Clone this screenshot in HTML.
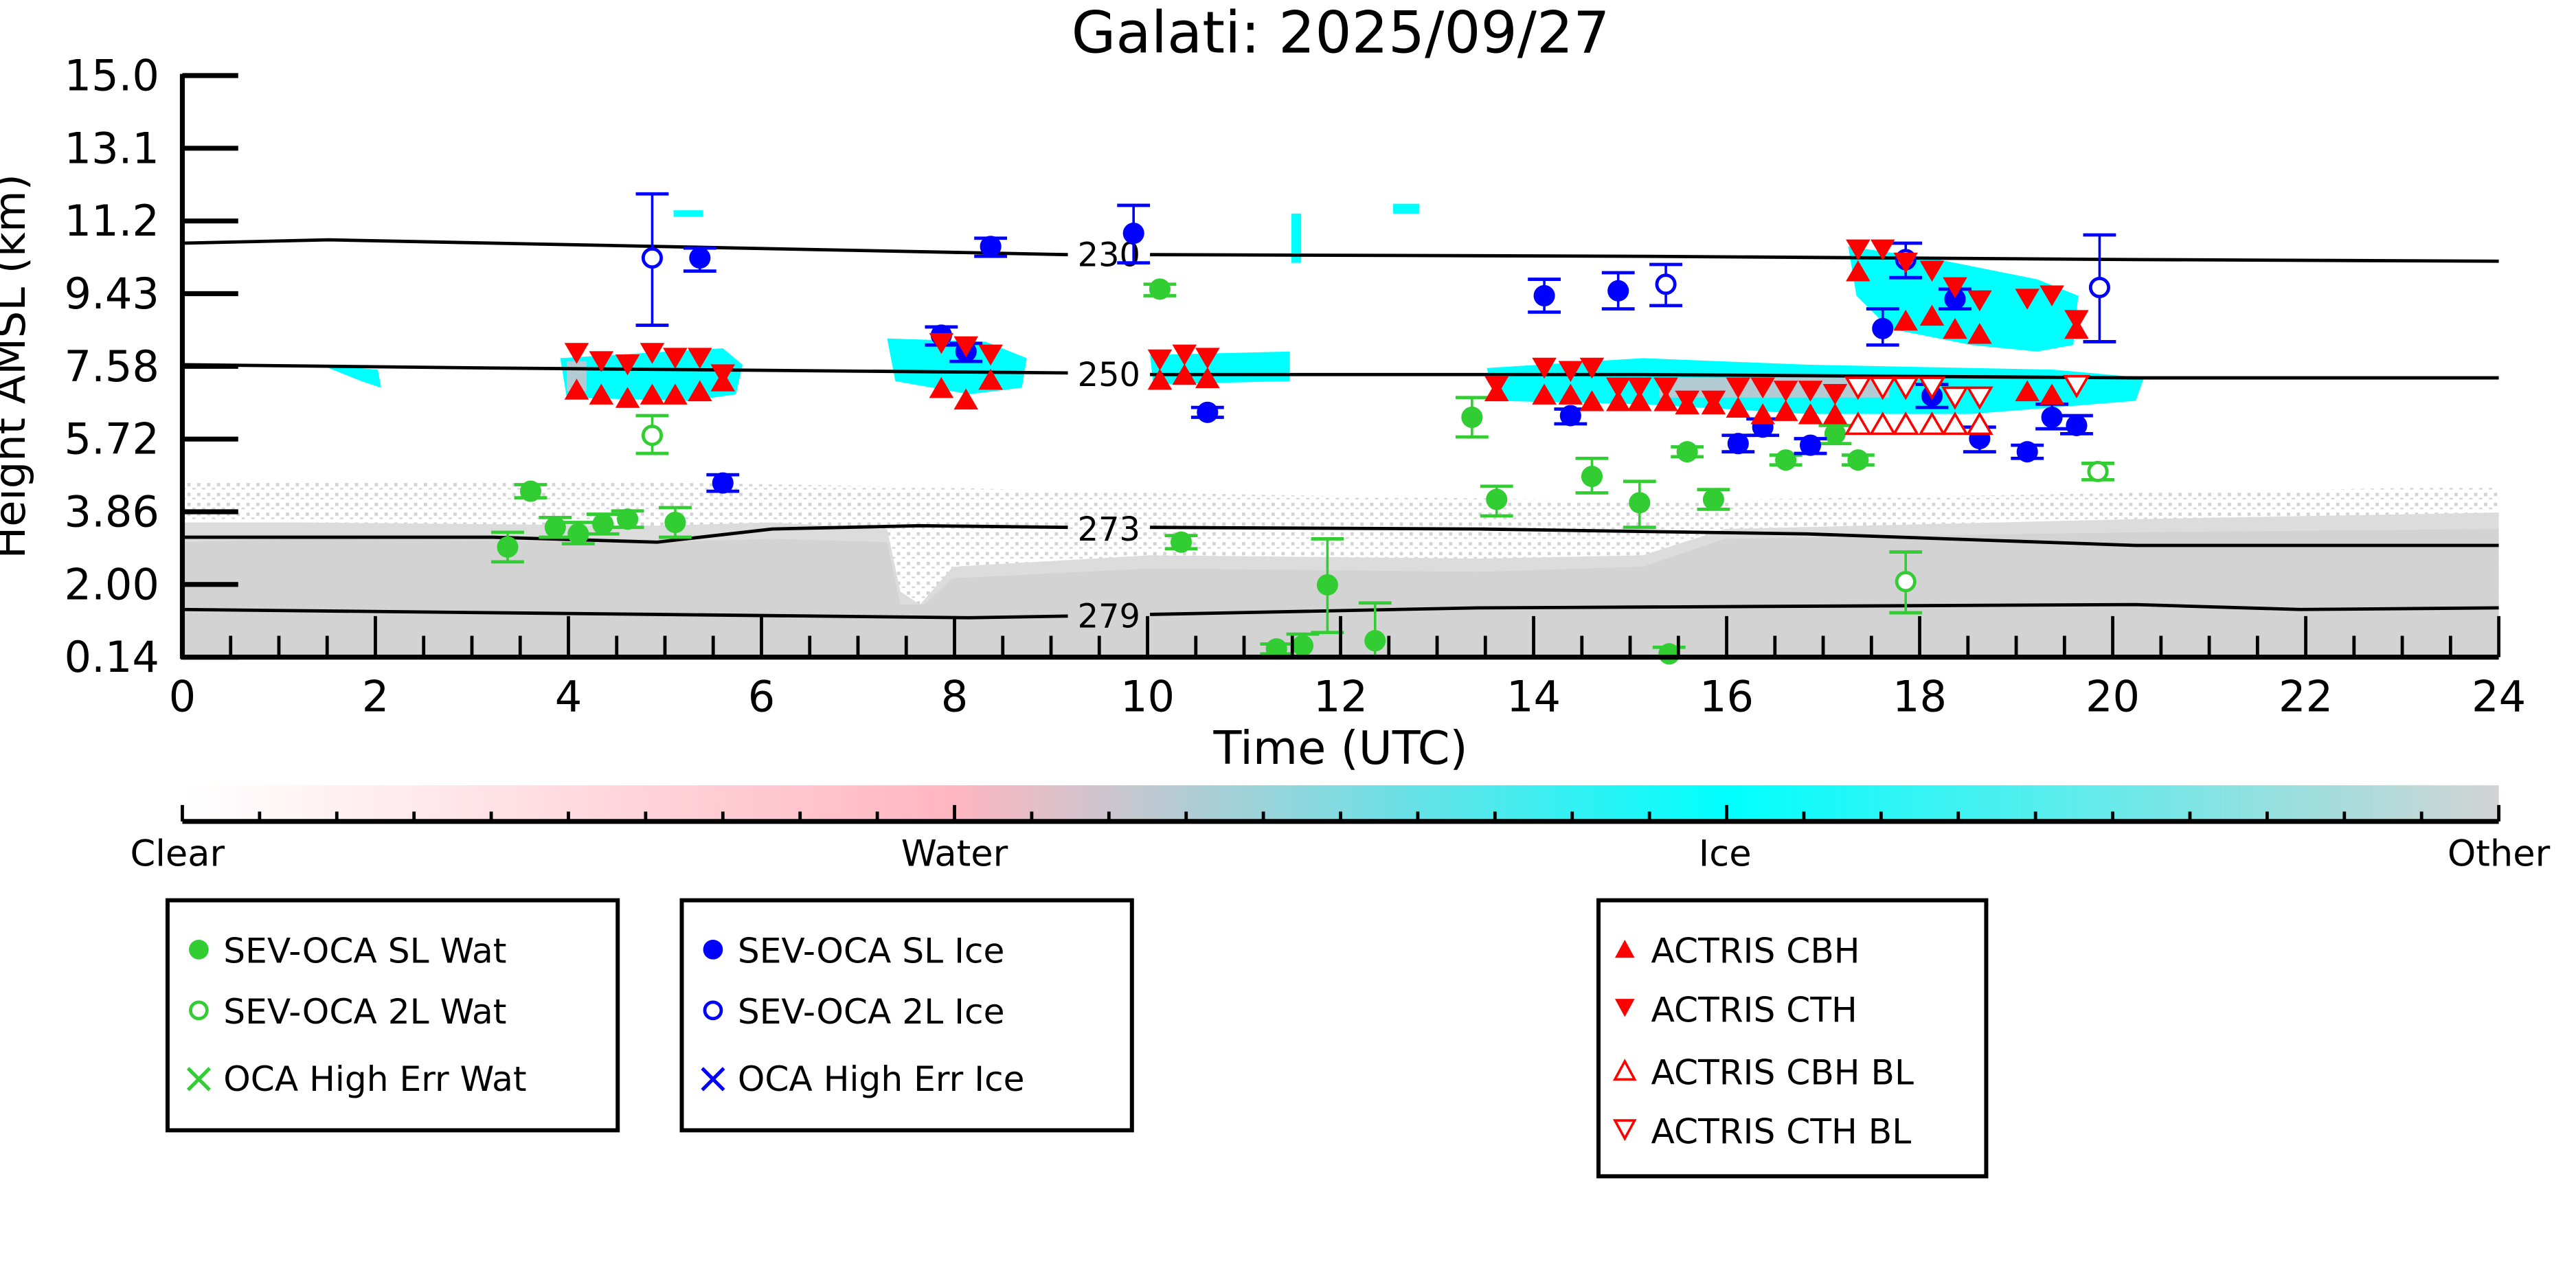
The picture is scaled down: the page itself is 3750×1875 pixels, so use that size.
<!DOCTYPE html>
<html><head><meta charset="utf-8"><style>
html,body{margin:0;padding:0;background:#fff;}
svg{display:block;font-family:"DejaVu Sans","Liberation Sans",sans-serif;}
</style></head><body>
<svg id="s" width="3750" height="1875" viewBox="0 0 1568 784" xmlns="http://www.w3.org/2000/svg">
<defs>
<linearGradient id="cb" x1="0" x2="1" y1="0" y2="0">
<stop offset="0" stop-color="#ffffff"/>
<stop offset="0.333" stop-color="#ffb6c1"/>
<stop offset="0.667" stop-color="#00ffff"/>
<stop offset="1" stop-color="#d3d3d3"/>
</linearGradient>
<pattern id="noise" width="6" height="6" patternUnits="userSpaceOnUse">
<rect x="0" y="0" width="2" height="2" fill="#d3d3d3"/><rect x="3" y="3" width="2" height="1" fill="#d3d3d3"/>
</pattern>
</defs>
<text x="816" y="32" font-size="35" text-anchor="middle">Galati: 2025/09/27</text>
<!-- gray clutter -->
<polygon fill="url(#noise)" points="111,292 300,292 540,296 700,300 1000,305 1300,300 1521,296 1521,400 111,400"/>
<polygon fill="#dcdcdc" points="111,318 180,318 400,320 470,318 540,322 548,360 560,368 580,345 700,338 900,340 1000,338 1050,322 1300,316 1521,312 1521,400 111,400"/>
<polygon fill="#d3d3d3" points="111,330 180,328 400,330 470,328 540,330 548,368 560,370 580,352 700,346 900,348 1000,345 1050,328 1300,324 1521,322 1521,400 111,400"/>
<rect x="111" y="368" width="1410" height="32" fill="#d3d3d3"/>
<!-- cyan clouds -->
<g fill="#00ffff">
<polygon points="341,218 440,212 452,222 448,240 420,244 345,242"/>
<polygon points="540,206 600,208 625,218 622,236 590,240 545,232"/>
<polygon points="700,216 785,214 785,232 702,234"/>
<polygon points="905,224 1000,218 1100,222 1250,225 1305,230 1300,244 1200,252 1100,252 1000,246 910,244"/>
<polygon points="1125,150 1180,158 1240,170 1265,180 1262,210 1240,214 1200,210 1150,200 1130,180"/>
<polygon points="195,222 230,225 232,236 220,232"/>
<rect x="410" y="128" width="18" height="4"/>
<rect x="848" y="124" width="16" height="6"/>
<rect x="786" y="130" width="6" height="30"/>
</g>
<g fill="#ffb6c1" opacity="0.7">
<rect x="1010" y="230" width="140" height="12"/><rect x="345" y="220" width="12" height="18"/>
</g>
<!-- contours -->
<g fill="none" stroke="#000" stroke-width="2">
<polyline points="111,148 200,146 400,150 650,155"/><polyline points="700,155 1000,156 1300,158 1521,159"/>
<polyline points="111,222 300,224 650,227"/><polyline points="700,228 1000,228 1300,230 1521,230"/>
<polyline points="111,327 300,327 400,330 470,322 560,320 650,321"/><polyline points="700,321 900,322 1100,325 1300,332 1521,332"/>
<polyline points="111,371 400,374 590,376 650,375"/><polyline points="700,374 900,370 1300,368 1400,371 1521,370"/>
</g>
<g font-size="20" text-anchor="middle">
<text x="675" y="162">230</text><text x="675" y="235">250</text><text x="675" y="329">273</text><text x="675" y="382">279</text>
</g>
<g id="marks"></g>
<!-- axes -->
<g stroke="#000" stroke-width="3" fill="none">
<line x1="111" y1="45" x2="111" y2="401"/><line x1="110" y1="400" x2="1521" y2="400"/>
</g>
<g id="ticks" stroke="#000" stroke-width="2"></g>
<g font-size="26" text-anchor="end" id="ylab"></g>
<g font-size="26" text-anchor="middle" id="xlab"></g>
<text x="816" y="465" font-size="28" text-anchor="middle">Time (UTC)</text>
<text transform="translate(15,223) rotate(-90)" font-size="26" text-anchor="middle">Height AMSL (km)</text>
<!-- colorbar -->
<rect x="111" y="478" width="1410" height="22" fill="url(#cb)"/>
<line x1="111" y1="500" x2="1521" y2="500" stroke="#000" stroke-width="3"/>
<g id="cbt" stroke="#000" stroke-width="2"></g>
<g font-size="22" text-anchor="middle">
<text x="108" y="527">Clear</text><text x="581" y="527">Water</text><text x="1050" y="527">Ice</text><text x="1521" y="527">Other</text>
</g>
<!-- legends -->
<g fill="none" stroke="#000" stroke-width="2.5">
<rect x="102" y="548" width="274" height="140"/><rect x="415" y="548" width="274" height="140"/><rect x="973" y="548" width="236" height="168"/>
</g>
<g font-size="21">
<circle cx="121" cy="578" r="6" fill="#32cd32"/><text x="136" y="586">SEV-OCA SL Wat</text>
<circle cx="121" cy="615" r="5" fill="none" stroke="#32cd32" stroke-width="2"/><text x="136" y="623">SEV-OCA 2L Wat</text>
<text x="121" y="665" fill="#32cd32" text-anchor="middle" font-size="26">×</text><text x="136" y="664">OCA High Err Wat</text>
<circle cx="434" cy="578" r="6" fill="#0000ff"/><text x="449" y="586">SEV-OCA SL Ice</text>
<circle cx="434" cy="615" r="5" fill="none" stroke="#0000ff" stroke-width="2"/><text x="449" y="623">SEV-OCA 2L Ice</text>
<text x="434" y="665" fill="#0000ff" text-anchor="middle" font-size="26">×</text><text x="449" y="664">OCA High Err Ice</text>
<polygon points="989,572 983,583 995,583" fill="#f00"/><text x="1005" y="586">ACTRIS CBH</text>
<polygon points="983,608 995,608 989,619" fill="#f00"/><text x="1005" y="622">ACTRIS CTH</text>
<polygon points="989,646 983,657 995,657" fill="none" stroke="#f00" stroke-width="1.5"/><text x="1005" y="660">ACTRIS CBH BL</text>
<polygon points="983,682 995,682 989,693" fill="none" stroke="#f00" stroke-width="1.5"/><text x="1005" y="696">ACTRIS CTH BL</text>
</g>
</svg>
<script>
var NS="http://www.w3.org/2000/svg";
function el(p,t,a,txt){var e=document.createElementNS(NS,t);for(var k in a)e.setAttribute(k,a[k]);if(txt)e.textContent=txt;p.appendChild(e);return e;}
var tk=document.getElementById("ticks");
var yl=["15.0","13.1","11.2","9.43","7.58","5.72","3.86","2.00","0.14"];
var yg=document.getElementById("ylab");
for(var i=0;i<9;i++){var y=46+i*44.25;el(tk,"line",{x1:111,x2:145,y1:y,y2:y,"stroke-width":3});el(yg,"text",{x:97,y:y+9},yl[i]);}
var xg=document.getElementById("xlab");
for(var h=0;h<=48;h++){var x=111+h*29.375;var maj=h%4==0;el(tk,"line",{x1:x,x2:x,y1:400,y2:maj?375:387});if(maj)el(xg,"text",{x:x,y:433},String(h/2));}
var cbt=document.getElementById("cbt");
for(var i=0;i<=30;i++){var x=111+i*47;var maj=i%10==0;el(cbt,"line",{x1:x,x2:x,y1:500,y2:maj?490:494});}
var m=document.getElementById("marks");
var G="#32cd32",B="#0000ff",R="#ff0000";
function pt(x,y,c,open,lo,hi){if(lo!==undefined){el(m,"line",{x1:x,x2:x,y1:lo,y2:hi,stroke:c,"stroke-width":1.5});el(m,"line",{x1:x-10,x2:x+10,y1:lo,y2:lo,stroke:c,"stroke-width":2});el(m,"line",{x1:x-10,x2:x+10,y1:hi,y2:hi,stroke:c,"stroke-width":2});}
if(open)el(m,"circle",{cx:x,cy:y,r:5.5,fill:"#fff",stroke:c,"stroke-width":2});else el(m,"circle",{cx:x,cy:y,r:6.5,fill:c});}
[[309,333,324,342],[323,299,295,303],[338,321,315,327],[352,325,318,331],[367,319,313,325],[382,316,311,321],[411,318,309,327],[706,176,173,180],[719,330,326,334],[808,356,328,385],[777,395,392,398],[793,393,386,400],[837,390,367,400],[896,254,242,266],[911,304,296,314],[969,290,279,300],[998,306,293,321],[1027,275,272,278],[1043,304,298,310],[1087,280,277,283],[1117,264,259,270],[1131,280,277,283],[1016,398,394,400]].forEach(function(a){pt(a[0],a[1],G,false,a[2],a[3]);});
[[397,265,253,276],[1160,354,336,373],[1277,287,282,292]].forEach(function(a){pt(a[0],a[1],G,true,a[2],a[3]);});
[[426,157,151,165],[440,294,289,299],[573,204,199,210],[588,214,209,220],[603,150,145,156],[690,142,125,160],[735,251,248,254],[940,180,170,190],[956,253,249,258],[985,177,166,188],[1058,270,265,275],[1073,260,255,265],[1102,271,267,276],[1146,200,188,210],[1176,241,234,248],[1190,182,176,188],[1205,267,260,275],[1234,275,271,279],[1249,254,246,261],[1264,259,253,264]].forEach(function(a){pt(a[0],a[1],B,false,a[2],a[3]);});
[[397,157,118,198],[1014,173,161,186],[1160,158,148,169],[1278,175,143,208]].forEach(function(a){pt(a[0],a[1],B,true,a[2],a[3]);});
function tri(x,y,up,open){var s=7,h=12;var p=up?[x,y-h/2,x-s,y+h/2,x+s,y+h/2]:[x-s,y-h/2,x+s,y-h/2,x,y+h/2];
el(m,"polygon",{points:p.join(","),fill:open?"#fff":R,stroke:R,"stroke-width":open?1.5:0.5});}
var xs=[351,366,382,397,411,426,440];
var tops=[215,220,222,215,218,218,228], bots=[237,240,242,240,240,238,232];
xs.forEach(function(x,i){tri(x,tops[i],false);tri(x,bots[i],true);});
[[588,211,false],[573,236,true],[588,243,true],[603,216,false],[603,231,true],[573,209,false]].forEach(function(a){tri(a[0],a[1],a[2]);});
[[706,219],[721,216],[735,218]].forEach(function(a){tri(a[0],a[1],false);tri(a[0],a[1]+12,true);});
var xr=[911,940,956,969,985,998,1014,1027,1043,1058,1073,1087,1102,1117];
var tr=[235,224,226,224,236,236,236,244,244,236,236,238,238,240];
var br=[238,240,240,244,244,244,244,246,246,248,252,250,252,252];
xr.forEach(function(x,i){tri(x,tr[i],false);tri(x,br[i],true);});
[1131,1146,1160,1176,1190,1205].forEach(function(x,i){tri(x,236+(i>3?6:0),false,true);tri(x,258,true,true);});
[[1131,152],[1146,152],[1160,160],[1176,165],[1190,175],[1205,183],[1234,182],[1249,180],[1264,195]].forEach(function(a){tri(a[0],a[1],false);});
[[1131,165],[1160,195],[1176,192],[1190,200],[1205,203],[1264,200],[1234,238],[1249,240]].forEach(function(a){tri(a[0],a[1],true);});
[[1264,235]].forEach(function(a){tri(a[0],a[1],false,true);});
</script>
</body></html>
